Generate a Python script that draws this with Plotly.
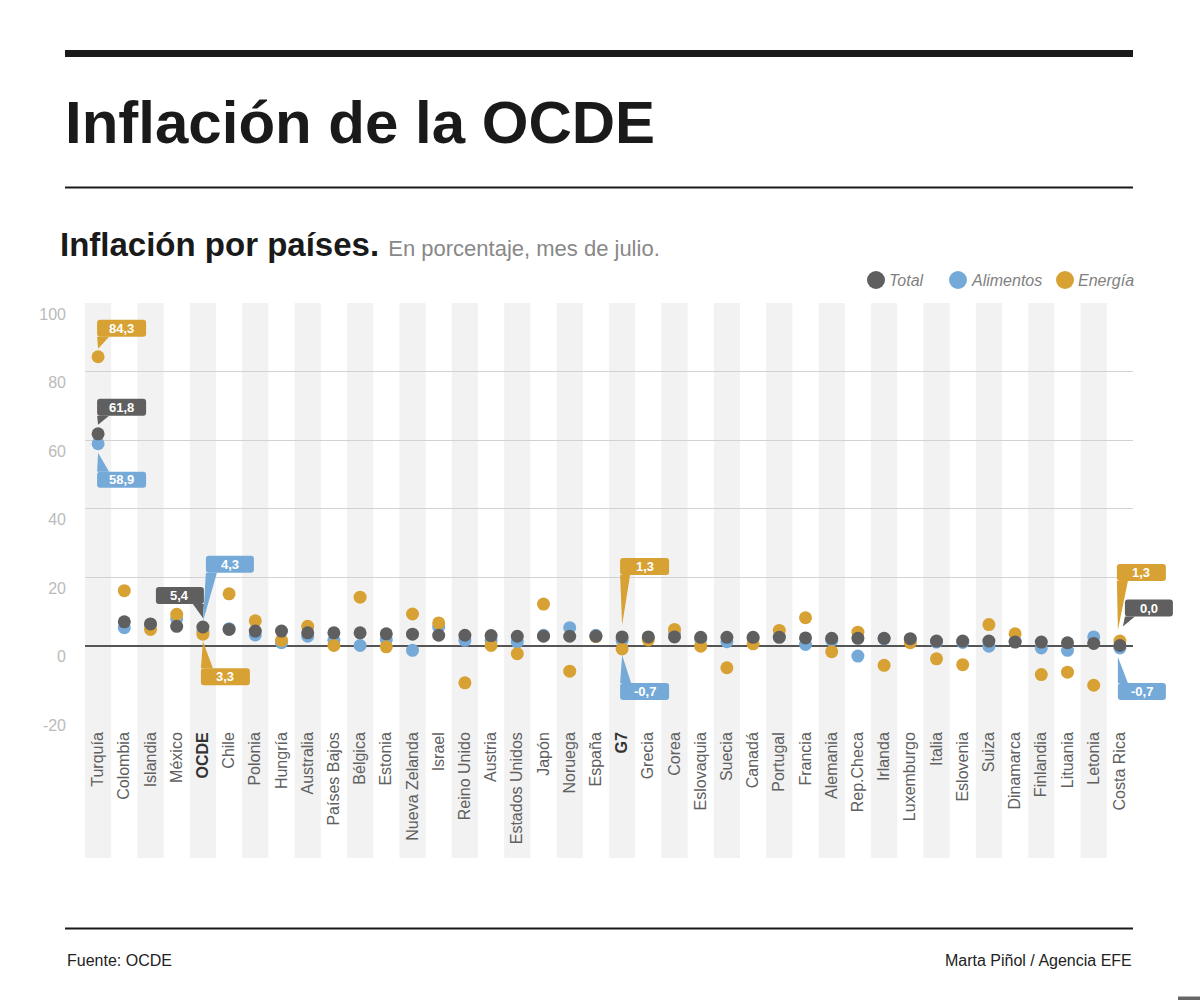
import plotly.graph_objects as go

# ---------------- data ----------------
countries = ["Turquía", "Colombia", "Islandia", "México", "OCDE", "Chile", "Polonia", "Hungría",
             "Australia", "Países Bajos", "Bélgica", "Estonia", "Nueva Zelanda", "Israel",
             "Reino Unido", "Austria", "Estados Unidos", "Japón", "Noruega", "España", "G7",
             "Grecia", "Corea", "Eslovaquia", "Suecia", "Canadá", "Portugal", "Francia",
             "Alemania", "Rep.Checa", "Irlanda", "Luxemburgo", "Italia", "Eslovenia", "Suiza",
             "Dinamarca", "Finlandia", "Lituania", "Letonia", "Costa Rica"]
total = [61.8, 6.9, 6.3, 5.6, 5.4, 4.7, 4.2, 4.2, 3.7, 3.7, 3.7, 3.4, 3.3, 3.0, 3.0, 2.9,
         2.7, 2.7, 2.7, 2.7, 2.5, 2.5, 2.5, 2.4, 2.4, 2.4, 2.4, 2.2, 2.1, 2.1, 2.1, 2.0,
         1.3, 1.3, 1.3, 1.0, 1.0, 0.8, 0.6, 0.0]
alimentos = [58.9, 5.2, 6.2, 7.8, 4.3, 4.9, 3.1, 0.8, 2.7, 1.5, 0.0, 1.7, -1.4, 5.4, 1.5, 1.5,
             1.0, 3.0, 5.2, 3.0, 1.5, 2.3, 3.4, 1.8, 1.1, 2.0, 2.6, 0.3, 1.5, -3.1, 2.0, 1.8,
             1.0, 0.9, -0.2, 1.2, -0.7, -1.4, 2.5, -0.7]
energia = [84.3, 16.0, 4.7, 9.1, 3.3, 15.1, 7.2, 1.5, 5.6, 0.0, 14.1, -0.4, 9.2, 6.6, -10.9, 0.0,
           -2.4, 12.1, -7.5, 2.6, -1.0, 1.6, 4.7, -0.2, -6.5, 0.5, 4.4, 8.1, -1.8, 3.9, -5.8, 0.8,
           -3.9, -5.6, 6.1, 3.4, -8.5, -7.8, -11.6, 1.3]
bold_labels = ["OCDE", "G7"]
y_ticks = [-20, 0, 20, 40, 60, 80, 100]
y_tick_labels = ["-20", "0", "20", "40", "60", "80", "100"]

# callouts: country, series, value shown
callout_countries = ["Turquía", "Turquía", "Turquía", "OCDE", "OCDE", "OCDE",
                     "G7", "G7", "Costa Rica", "Costa Rica", "Costa Rica"]
callout_series = ["Energía", "Total", "Alimentos", "Total", "Alimentos", "Energía",
                  "Energía", "Alimentos", "Energía", "Total", "Alimentos"]
callout_values = [84.3, 61.8, 58.9, 5.4, 4.3, 3.3, 1.3, -0.7, 1.3, 0.0, -0.7]

# ---------------- styles ----------------
FONT = "Liberation Sans, Arial, Helvetica, sans-serif"
C_TOTAL = "#5f5f5f"
C_ALIM = "#75aad8"
C_ENER = "#d7a133"
series_colors = {"Total": C_TOTAL, "Alimentos": C_ALIM, "Energía": C_ENER}

W, H = 1200, 1000
ML, MR, MT, MB = 85, 67, 303, 286
PW = W - ML - MR
PH = H - MT - MB
X_RANGE = [-0.5, len(countries) - 0.5]
Y_RANGE = [-20, 100]


def px_x(px):
    return (px - ML) / PW


def px_y(py):
    return (H - MB - py) / PH


def data_to_paper_x(v):
    return (v - X_RANGE[0]) / (X_RANGE[1] - X_RANGE[0])


def data_to_paper_y(v):
    return (v - Y_RANGE[0]) / (Y_RANGE[1] - Y_RANGE[0])


# callout geometry (pixel offsets relative to the anchor point, y upward)
# box (x0, x1, y0, y1), tail base (two points), tail tip
callout_geom = [
    ((-1, 48, 20, 37), ((-1, 20), (11, 20)), (0, 8)),
    ((-1, 48, 18, 35), ((-1, 18), (11, 18)), (0, 9)),
    ((-1, 48, -44, -28), ((-1, -28), (11, -28)), (0, -9)),
    ((-47, 1, 23, 40), ((-10, 23), (1, 23)), (0, 9)),
    ((3, 51, 58, 75), ((3, 58), (14, 58)), (0, 9)),
    ((-2, 47, -51, -34), ((-2, -34), (10, -34)), (0, -7)),
    ((-2, 47, 66, 83), ((-2, 66), (8, 66)), (0, 16)),
    ((-2, 47, -52, -35), ((-2, -35), (9, -35)), (0, -7)),
    ((-3, 46, 60, 77), ((-3, 60), (8, 60)), (-2, 11)),
    ((5, 53, 29, 46), ((5, 29), (15, 29)), (3, 19)),
    ((-2, 46, -52, -35), ((-2, -35), (8, -35)), (-2, -9)),
]

xs = list(range(len(countries)))

fig = go.Figure()
for name, vals in [("Alimentos", alimentos), ("Energía", energia), ("Total", total)]:
    fig.add_trace(go.Scatter(
        x=xs, y=vals, mode="markers", name=name,
        marker=dict(size=13, color=series_colors[name], line=dict(width=0)),
        hovertemplate="%{text}: %{y}<extra>" + name + "</extra>", text=countries,
        cliponaxis=False,
    ))

shapes = []
annotations = []

# alternating background stripes
for i in xs:
    if i % 2 == 0:
        shapes.append(dict(type="rect", xref="x", yref="paper", x0=i - 0.5, x1=i + 0.5,
                           y0=px_y(858), y1=1, fillcolor="#f2f2f2", line=dict(width=0),
                           layer="below"))


def rounded_rect(x0, x1, y0, y1, r=3):
    return (f"M {x0 + r},{y0} L {x1 - r},{y0} Q {x1},{y0} {x1},{y0 + r} "
            f"L {x1},{y1 - r} Q {x1},{y1} {x1 - r},{y1} L {x0 + r},{y1} "
            f"Q {x0},{y1} {x0},{y1 - r} L {x0},{y0 + r} Q {x0},{y0} {x0 + r},{y0} Z")


for c, s, v, (box, base, tip) in zip(callout_countries, callout_series, callout_values, callout_geom):
    xi = countries.index(c)
    col = series_colors[s]
    axp = data_to_paper_x(xi)
    ayp = data_to_paper_y(v)
    bx0, bx1, by0, by1 = box
    shapes.append(dict(type="path", xref="paper", yref="paper", xsizemode="pixel",
                       ysizemode="pixel", xanchor=axp, yanchor=ayp,
                       path=rounded_rect(bx0, bx1, by0, by1),
                       fillcolor=col, line=dict(width=0), layer="above"))
    (ax, ay), (bx, by) = base
    tx, ty = tip
    shapes.append(dict(type="path", xref="paper", yref="paper", xsizemode="pixel",
                       ysizemode="pixel", xanchor=axp, yanchor=ayp,
                       path=f"M {ax},{ay} L {bx},{by} L {tx},{ty} Z",
                       fillcolor=col, line=dict(width=0), layer="above"))
    label = f"{v:.1f}".replace(".", ",")
    annotations.append(dict(x=axp, y=ayp, xref="paper", yref="paper", text=f"<b>{label}</b>",
                            showarrow=False, xshift=(bx0 + bx1) / 2, yshift=(by0 + by1) / 2,
                            xanchor="center", yanchor="middle",
                            font=dict(family=FONT, size=13, color="white")))

# header / footer rules
shapes.append(dict(type="rect", xref="paper", yref="paper", x0=px_x(65), x1=px_x(1133),
                   y0=px_y(57), y1=px_y(50), fillcolor="#1a1a1a", line=dict(width=0)))
shapes.append(dict(type="line", xref="paper", yref="paper", x0=px_x(65), x1=px_x(1133),
                   y0=px_y(187.5), y1=px_y(187.5), line=dict(color="#1a1a1a", width=2)))
shapes.append(dict(type="line", xref="paper", yref="paper", x0=px_x(65), x1=px_x(1133),
                   y0=px_y(928.5), y1=px_y(928.5), line=dict(color="#1a1a1a", width=2)))
shapes.append(dict(type="rect", xref="paper", yref="paper", x0=px_x(1178), x1=px_x(1200),
                   y0=px_y(1000), y1=px_y(996.5), fillcolor="#666666", line=dict(width=0)))

# title & subtitle
annotations.append(dict(xref="paper", yref="paper", x=px_x(63), y=px_y(122), xanchor="left",
                        yanchor="middle", showarrow=False, text="<b>Inflación de la OCDE</b>",
                        font=dict(family=FONT, size=60, color="#1a1a1a")))
annotations.append(dict(xref="paper", yref="paper", x=px_x(58), y=px_y(245), xanchor="left",
                        yanchor="middle", showarrow=False,
                        text="<b>Inflación por países.</b> "
                             "<span style='font-size:22px;color:#888888'>En porcentaje, mes de julio.</span>",
                        font=dict(family=FONT, size=33, color="#1a1a1a")))

# footer
annotations.append(dict(xref="paper", yref="paper", x=px_x(65), y=px_y(960), xanchor="left",
                        yanchor="middle", showarrow=False, text="Fuente: OCDE",
                        font=dict(family=FONT, size=16, color="#222222")))
annotations.append(dict(xref="paper", yref="paper", x=px_x(1134), y=px_y(960), xanchor="right",
                        yanchor="middle", showarrow=False, text="Marta Piñol / Agencia EFE",
                        font=dict(family=FONT, size=16, color="#222222")))

# custom legend
legend_items = [("Total", 876), ("Alimentos", 958), ("Energía", 1065)]
for name, cx in legend_items:
    shapes.append(dict(type="circle", xref="paper", yref="paper", xsizemode="pixel",
                       ysizemode="pixel", xanchor=px_x(cx), yanchor=px_y(280),
                       x0=-9, x1=9, y0=-9, y1=9, fillcolor=series_colors[name],
                       line=dict(width=0)))
    annotations.append(dict(xref="paper", yref="paper", x=px_x(cx + 11), y=px_y(280),
                            xanchor="left", yanchor="middle", showarrow=False,
                            text=f"<i>{name}</i>",
                            font=dict(family=FONT, size=16, color="#808080")))

ticktext = [f"<span style='color:#333333'><b>{c}</b></span>" if c in bold_labels else c
            for c in countries]

fig.update_layout(
    width=W, height=H,
    margin=dict(l=ML, r=MR, t=MT, b=MB, autoexpand=False),
    paper_bgcolor="white", plot_bgcolor="rgba(0,0,0,0)",
    showlegend=False,
    shapes=shapes, annotations=annotations,
    font=dict(family=FONT),
    xaxis=dict(range=X_RANGE, tickmode="array", tickvals=xs,
               ticktext=ticktext, tickangle=-90, showgrid=False, zeroline=False,
               showline=False, ticks="", tickfont=dict(family=FONT, size=16, color="#606060"),
               ticklabelstandoff=14, automargin=False, fixedrange=True),
    yaxis=dict(range=Y_RANGE, tickmode="array", tickvals=y_ticks, ticktext=y_tick_labels,
               showgrid=True, gridcolor="#d2d2d2", gridwidth=1, zeroline=True,
               zerolinecolor="#555555", zerolinewidth=2, showline=False, ticks="",
               ticklabelposition="outside bottom", ticklabelstandoff=18,
               tickfont=dict(family=FONT, size=16, color="#bbbbbb"), automargin=False,
               fixedrange=True),
)

fig.write_html("out.html")
